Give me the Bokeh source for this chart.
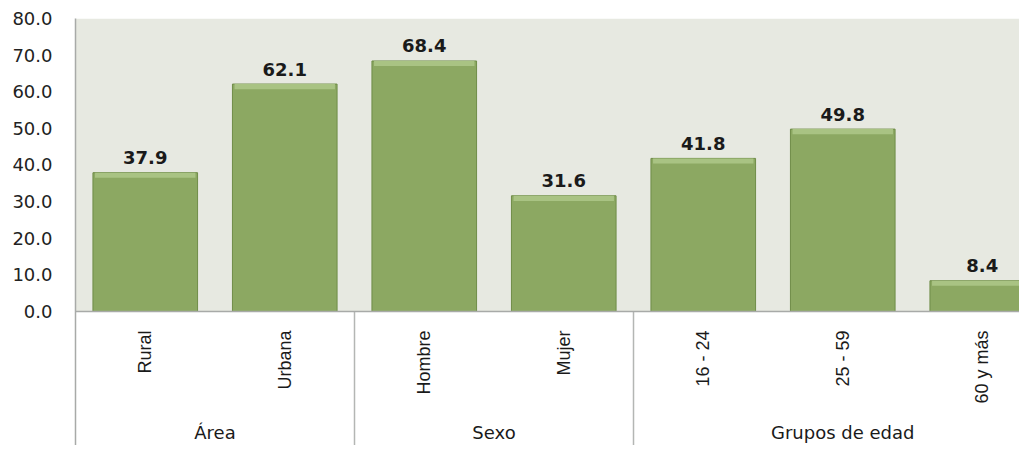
import numpy as np
from bokeh.plotting import figure
from bokeh.models import Range1d, FixedTicker, NumeralTickFormatter, Span, ColumnDataSource
from bokeh.core.properties import value
from bokeh.embed import file_html
from bokeh.resources import INLINE

# ---- data ----
categories = ["Rural", "Urbana", "Hombre", "Mujer", "16 - 24", "25 - 59", "60 y más"]
values = [37.9, 62.1, 68.4, 31.6, 41.8, 49.8, 8.4]
groups = ["Área", "Sexo", "Grupos de edad"]
group_sizes = [2, 2, 3]
y_ticks = [0, 10, 20, 30, 40, 50, 60, 70, 80]

x = np.arange(len(categories)) + 0.5
vals = np.array(values)
sizes = np.array(group_sizes)
bounds = np.concatenate([[0], np.cumsum(sizes)])
group_centers = (bounds[:-1] + bounds[1:]) / 2.0

p = figure(width=1019, height=445, output_backend="svg", toolbar_location=None,
           x_range=Range1d(0, 6.767), y_range=Range1d(-36.59, 80),
           min_border_left=75, min_border_top=18, min_border_right=0, min_border_bottom=0)
p.outline_line_color = None
p.xaxis.visible = False
p.xgrid.visible = False
p.ygrid.visible = False
p.background_fill_color = "white"

# plot-area background (0..80)
p.quad(left=[0], right=[len(categories) + 1], bottom=[0], top=[max(y_ticks)],
       fill_color="#E7E9E1", line_color=None)

src = ColumnDataSource(dict(x=x, top=vals, cat=categories,
                            lab=["%.1f" % v for v in values],
                            ly=vals + 4.1,
                            hl=vals - 1.4))
p.vbar(x="x", top="top", bottom=0, width=0.75, source=src,
       fill_color="#8CA862", line_color="#6F8C48", line_width=1)
p.vbar(x="x", top="top", bottom="hl", width=0.72, source=src,
       fill_color="#A9C383", line_color=None)

p.text(x="x", y="ly", text="lab", source=src, text_align="center",
       text_baseline="alphabetic", text_font=value("DejaVu Sans"),
       text_font_style="bold", text_font_size="18px", text_color="#1a1a1a")

# axis lines
p.add_layout(Span(location=0, dimension="width", line_color="#A8AAA8", line_width=1.5))
p.segment(x0=bounds[1:-1], y0=0, x1=bounds[1:-1], y1=-60, line_color="#B4B6B4", line_width=1.5)

# category labels (rotated)
p.text(x="x", y=-5.2, text="cat", source=src, angle=np.pi / 2,
       text_align="right", text_baseline="middle",
       text_font=value("Liberation Sans"), text_font_size="18px", text_color="#1a1a1a")

# group labels
p.text(x=group_centers, y=-33.0, text=groups, text_align="center", text_baseline="middle",
       text_font=value("DejaVu Sans"), text_font_size="18px", text_color="#1a1a1a")

ya = p.yaxis[0]
ya.ticker = FixedTicker(ticks=y_ticks)
ya.formatter = NumeralTickFormatter(format="0.0")
ya.major_tick_out = 0
ya.major_tick_in = 0
ya.minor_tick_out = 0
ya.minor_tick_in = 0
ya.axis_line_color = "#A8AAA8"
ya.axis_line_width = 1.5
ya.major_label_standoff = 23
ya.major_label_text_font = "DejaVu Sans"
ya.major_label_text_font_size = "18px"
ya.major_label_text_color = "#222222"

open("out.html", "w").write(file_html(p, INLINE))
